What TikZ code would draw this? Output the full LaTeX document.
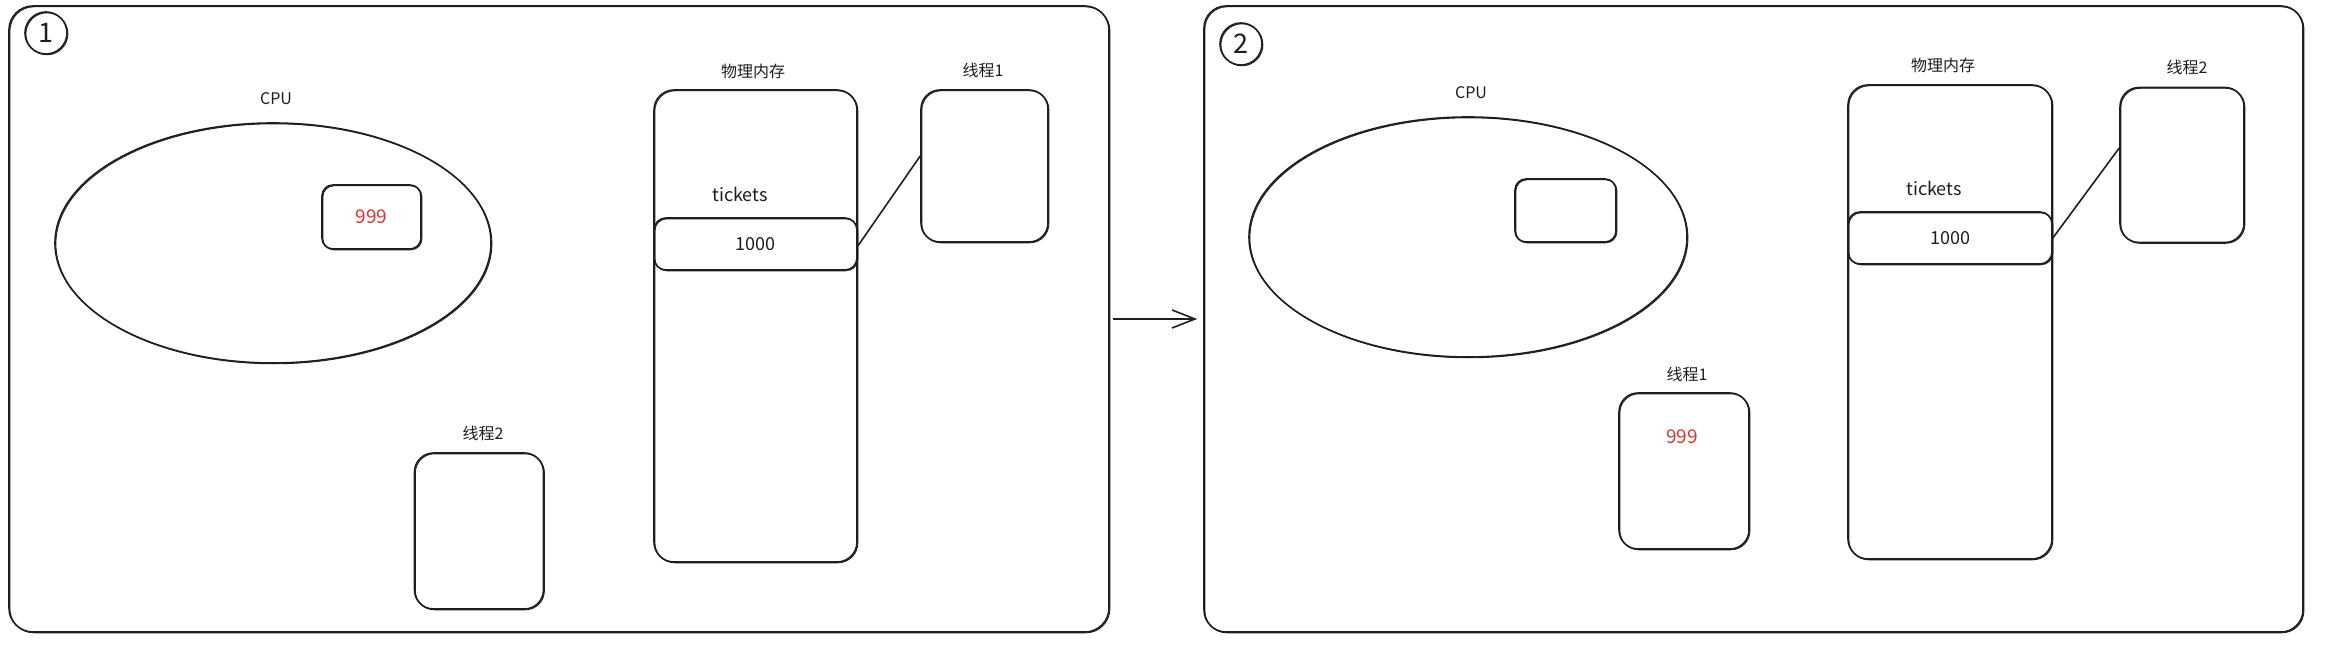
\documentclass[tikz,border=0pt]{standalone}
\usepackage{fontspec}
\setmainfont{Noto Sans CJK SC}
\usetikzlibrary{shapes.geometric,arrows.meta}
\definecolor{ink}{HTML}{1E1E1E}
\definecolor{exred}{HTML}{E03131}
\tikzset{
  sk/.style={draw=ink, line width=1.6pt, inner sep=0pt,
    postaction={draw=ink, line width=0.9pt, transform canvas={shift={(0.9pt,-0.8pt)}}}},
  rbox/.style={sk, rectangle, rounded corners=#1},
  rbox/.default=18pt,
  lbl/.style={font=\fontsize{16}{18}\selectfont, text=ink, inner sep=0pt},
  numtxt/.style={font=\fontsize{18}{20}\selectfont, text=ink, inner sep=0pt},
  redtxt/.style={font=\fontsize{19}{21}\selectfont, text=exred, inner sep=0pt},
  numc/.style={sk, circle, minimum size=42pt, font=\fontsize{27}{29}\selectfont, text=ink},
  link/.style={draw=ink, line width=1.6pt},
}
\begin{document}
\begin{tikzpicture}[x=1pt,y=-1pt]
\useasboundingbox (0,0) rectangle (2325,655);
% frames
\node[rbox=24pt, minimum width=1100pt, minimum height=626pt] (f1) at (559,319) {};
\node[rbox=22pt, minimum width=1099pt, minimum height=626pt] (f2) at (1753.5,319) {};
\node[numc] (c1) at (46,33) {1};
\node[numc] (c2) at (1241,44) {2};
% ---- frame 1
\node[sk, ellipse, minimum width=436pt, minimum height=240pt] (cpu1) at (273,243) {};
\node[lbl] (cpu1l) at (276,99) {CPU};
\node[rbox=11pt, minimum width=99pt, minimum height=64pt, redtxt] (reg1) at (371.5,217) {999};
\node[rbox=20pt, minimum width=203pt, minimum height=472pt] (mem1) at (755.5,326) {};
\node[lbl] (mem1l) at (753,71) {物理内存};
\node[numtxt] (tk1) at (740,194) {tickets};
\node[rbox=12pt, minimum width=203pt, minimum height=52pt, numtxt] (val1) at (755.5,244) {1000};
\node[rbox=19pt, minimum width=127pt, minimum height=152pt] (t1) at (984.5,166) {};
\node[lbl] (t1l) at (983,70) {线程1};
\node[rbox=19pt, minimum width=129pt, minimum height=156pt] (t2a) at (479,531) {};
\node[lbl] (t2al) at (483,433) {线程2};
\draw[link] ([yshift=-2pt]val1.east) -- ([yshift=10pt]t1.west);
% ---- frame 2
\node[sk, ellipse, minimum width=438pt, minimum height=240pt] (cpu2) at (1468,237) {};
\node[lbl] (cpu2l) at (1471,93) {CPU};
\node[rbox=11pt, minimum width=101pt, minimum height=63pt] (reg2) at (1565.5,210.5) {};
\node[rbox=20pt, minimum width=204pt, minimum height=474pt] (mem2) at (1950,322) {};
\node[lbl] (mem2l) at (1943,65) {物理内存};
\node[numtxt] (tk2) at (1934,188) {tickets};
\node[rbox=12pt, minimum width=204pt, minimum height=52pt, numtxt] (val2) at (1950,238) {1000};
\node[rbox=19pt, minimum width=124pt, minimum height=155pt] (t2) at (2182,165) {};
\node[lbl] (t2l) at (2187,67) {线程2};
\node[rbox=19pt, minimum width=130pt, minimum height=156pt] (t1b) at (1684,471) {};
\node[lbl] (t1bl) at (1687,374) {线程1};
\node[redtxt] (t1bv) at (1682,437) {999};
\draw[link] (val2.east) -- ([yshift=17pt]t2.west);
% ---- transition arrow
\draw[link, -{Straight Barb[length=23pt,width=18pt,line width=1.6pt]}] ([xshift=3pt]f1.east) -- ([xshift=-6pt]f2.west);
\end{tikzpicture}
\end{document}
